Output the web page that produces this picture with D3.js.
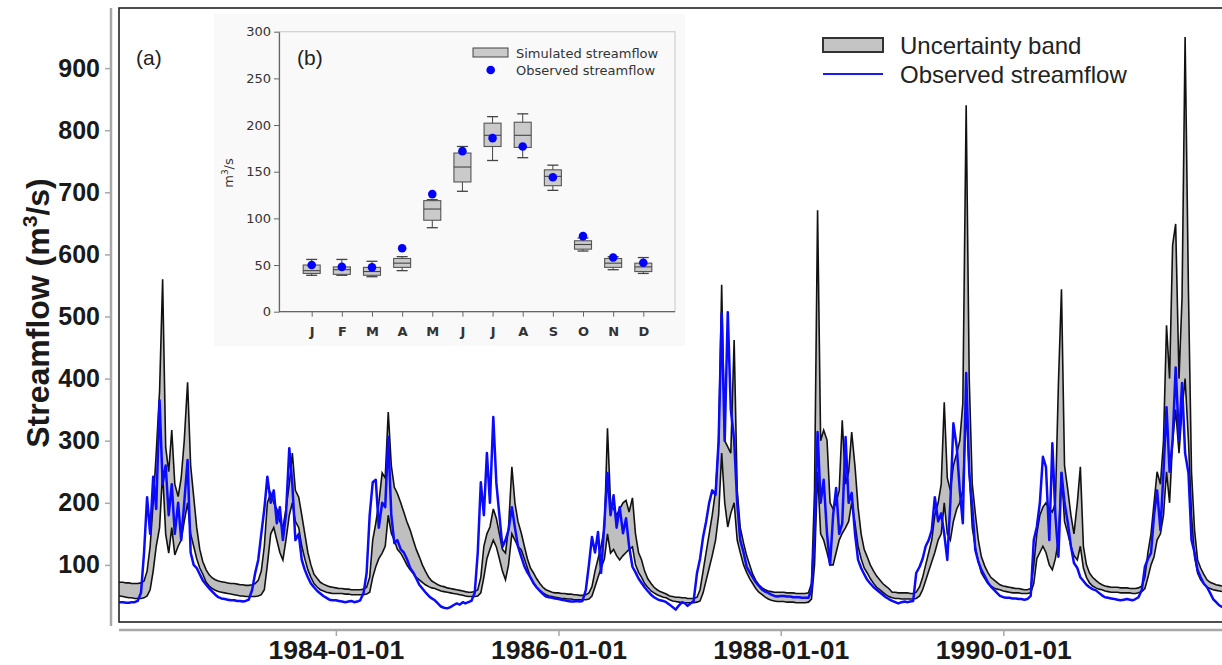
<!DOCTYPE html>
<html>
<head>
<meta charset="utf-8">
<title>Streamflow uncertainty band</title>
<script src="https://cdn.jsdelivr.net/npm/d3@7"></script>
<style>
  body { margin: 0; background: #fff; }
  svg { font-family: "Liberation Sans", Arial, sans-serif; }
</style>
</head>
<body>
<div id="chart"></div>
<script>

// ---- main panel (a): dekadal values, one row per year ----
var years = [1982, 1983, 1984, 1985, 1986, 1987, 1988, 1989, 1990, 1991];

var obsFlow = [
  [42,41,40,40,39,39,40,40,42,55,120,209,150,242,190,365,230,260,180,230,150,200,140,200,269,120,100,95,85,75,68,62,57,52,48,46],
  [45,44,43,43,42,42,41,42,44,60,87,108,150,190,242,200,220,167,193,140,180,288,230,140,150,108,92,80,70,64,58,54,50,47,44,43],
  [43,42,41,40,41,42,40,41,43,55,87,180,233,237,160,200,193,306,180,135,140,125,120,110,95,88,78,68,62,56,50,46,43,38,33,31],
  [30,32,35,38,36,40,38,40,42,55,120,233,180,280,200,338,232,180,129,140,156,193,160,130,113,98,88,80,71,64,58,53,49,48,47,46],
  [45,44,43,42,41,41,42,41,42,60,100,145,120,153,87,170,248,180,212,160,193,151,175,130,97,88,78,71,64,58,52,48,45,43,42,40],
  [36,32,28,35,40,38,34,38,42,87,110,145,170,200,220,213,300,505,300,507,350,301,200,140,120,97,88,80,72,66,60,57,55,52,50,49],
  [50,50,49,49,48,48,48,47,47,47,60,150,314,200,237,150,100,180,224,150,167,306,200,216,150,108,95,85,76,70,64,60,56,52,48,45],
  [42,40,38,40,41,40,41,42,87,97,110,130,140,156,209,170,183,150,108,200,328,290,220,167,409,250,193,124,105,92,82,72,65,60,55,50],
  [48,47,47,46,46,45,45,44,45,50,140,161,200,274,258,140,296,180,113,248,200,167,130,103,95,80,74,68,64,61,59,55,51,48,47,46],
  [45,44,43,44,45,44,43,45,48,60,97,110,119,180,220,156,250,354,250,300,418,301,393,280,248,140,120,92,80,70,64,55,45,40,35,32]
];

var bandHigh = [
  [74,73,72,72,71,71,70,70,70,71,74,90,130,200,280,380,560,290,250,317,230,210,240,300,394,260,210,160,125,105,92,84,79,76,74,73],
  [72,71,70,70,69,68,68,67,67,68,70,75,90,130,200,216,200,190,170,160,190,230,280,220,209,180,150,120,100,85,78,72,69,67,65,64],
  [63,62,62,61,61,60,60,60,60,61,64,80,140,167,200,248,240,346,260,225,215,200,185,170,156,140,125,113,100,90,80,74,71,68,66,65],
  [63,62,61,60,59,58,57,56,56,57,60,80,130,150,161,190,175,150,125,119,160,258,200,170,151,130,110,95,87,78,70,64,60,58,56,55],
  [55,54,54,53,53,52,52,51,51,52,55,65,90,110,130,160,320,200,190,180,190,200,204,185,208,150,120,108,90,78,70,64,60,57,55,53],
  [50,49,48,48,47,47,46,46,46,48,60,90,120,150,180,220,296,551,300,290,280,462,220,160,135,115,100,85,75,68,63,60,58,57,56,56],
  [56,56,55,55,55,54,54,54,54,55,70,220,671,300,317,301,200,190,200,220,333,230,250,314,258,193,150,125,113,100,90,82,76,70,66,62],
  [56,56,55,55,55,55,54,54,56,65,80,100,120,140,180,200,230,362,240,220,260,280,300,360,840,400,230,183,140,113,98,88,80,76,72,68],
  [66,65,64,63,62,62,61,60,60,62,100,150,180,193,200,190,185,200,393,544,260,220,180,150,200,258,130,100,87,80,75,71,68,66,65,64],
  [64,64,63,63,63,62,62,62,63,66,80,120,150,200,250,230,300,486,400,615,649,400,531,950,540,250,156,108,95,85,76,72,70,68,67,66]
];

var bandLow = [
  [52,51,50,49,48,47,47,46,46,46,47,50,60,90,130,160,250,150,119,160,116,130,140,170,200,150,130,110,95,85,72,66,62,59,57,56],
  [55,54,53,52,51,50,50,49,49,49,49,50,52,60,100,150,160,140,120,108,140,180,200,170,160,130,110,92,80,70,64,60,58,56,55,54],
  [54,54,54,53,53,52,52,52,52,52,53,56,80,97,110,119,130,180,151,140,125,119,110,100,92,86,80,76,72,68,65,63,62,60,58,57],
  [56,55,54,53,52,51,50,49,49,49,50,55,80,110,125,140,129,110,90,76,100,150,140,130,124,110,95,80,70,64,59,55,52,50,49,48],
  [47,46,46,45,45,44,44,44,44,44,45,50,65,80,95,110,150,119,125,115,108,115,120,125,129,100,88,80,70,64,58,55,52,50,48,47],
  [44,42,41,40,39,39,39,39,39,40,42,55,75,95,115,140,180,280,200,161,183,200,140,120,100,88,78,70,62,56,52,48,45,43,42,41],
  [41,41,40,40,40,39,39,39,39,40,45,100,250,150,140,120,100,100,120,140,151,160,170,200,167,130,110,95,87,78,70,64,60,56,52,49],
  [47,46,46,45,45,45,45,45,46,50,60,75,90,105,120,140,150,200,150,140,170,190,200,220,350,250,160,129,105,87,78,70,66,63,61,60],
  [58,57,56,55,55,55,54,54,54,55,70,110,120,130,120,100,92,110,140,250,170,150,130,115,108,130,95,80,71,66,63,61,60,58,57,56],
  [56,56,55,55,55,55,54,54,55,57,62,80,100,113,140,150,180,250,200,300,350,280,350,400,300,180,113,87,76,70,64,62,60,59,58,57]
];

var yTicks = [100, 200, 300, 400, 500, 600, 700, 800, 900];
var xTickDates = ["1984-01-01", "1986-01-01", "1988-01-01", "1990-01-01"];

// ---- inset (b): monthly box plot ----
var months = ["J", "F", "M", "A", "M", "J", "J", "A", "S", "O", "N", "D"];
var simMin = [39, 39, 37.5, 44, 90, 129, 162, 165, 130, 65, 45, 41];
var simQ1  = [41, 40, 39, 47.5, 98, 139, 177, 176, 135, 67, 47.5, 43];
var simMed = [44, 45, 43, 52, 110, 155, 189, 189, 145, 72, 52, 48];
var simQ3  = [50, 48, 47.5, 57, 119, 170, 202, 203, 152, 76, 57, 52];
var simMax = [56, 56, 54, 59, 120, 177, 209, 212, 157, 79, 59, 58];
var obsMonthly = [50, 48, 47.5, 68, 126, 172, 186, 177, 144, 81, 58, 52.5];
var insetTicks = [0, 50, 100, 150, 200, 250, 300];


var width = 1222, height = 665;

var svg = d3.select("#chart")
  .append("svg")
    .attr("width", width)
    .attr("height", height);

svg.append("rect").attr("width", width).attr("height", height).attr("fill", "#fff");

// build the series: 3 points per month (1st, 11th, 21st)
var series = [];
years.forEach(function(yr, r) {
  obsFlow[r].forEach(function(v, i) {
    series.push({
      date: new Date(yr, Math.floor(i / 3), 1 + (i % 3) * 10),
      obs: v,
      hi: bandHigh[r][i],
      lo: bandLow[r][i]
    });
  });
});

var x = d3.scaleTime()
  .domain([new Date(1982, 0, 1), new Date(1992, 0, 1)])
  .range([113.6, 1225.6]);

var y = d3.scaleLinear()
  .domain([0, 1000])
  .range([627, 6]);

var plotLeft = 119, plotTop = 8, plotBottom = 622;

svg.append("clipPath").attr("id", "plotclip")
  .append("rect")
    .attr("x", plotLeft).attr("y", plotTop)
    .attr("width", 1110).attr("height", plotBottom - plotTop);

var plot = svg.append("g").attr("clip-path", "url(#plotclip)");

// uncertainty band
plot.append("path")
  .datum(series)
  .attr("fill", "#bfbfbf")
  .attr("d", d3.area()
    .x(function(d) { return x(d.date); })
    .y0(function(d) { return y(d.lo); })
    .y1(function(d) { return y(d.hi); }));

["hi", "lo"].forEach(function(k) {
  plot.append("path")
    .datum(series)
    .attr("fill", "none")
    .attr("stroke", "#111")
    .attr("stroke-width", 1.6)
    .attr("d", d3.line()
      .x(function(d) { return x(d.date); })
      .y(function(d) { return y(d[k]); }));
});

// observed
plot.append("path")
  .datum(series)
  .attr("fill", "none")
  .attr("stroke", "#0a0aff")
  .attr("stroke-width", 2.5)
  .attr("stroke-linejoin", "round")
  .attr("d", d3.line()
    .x(function(d) { return x(d.date); })
    .y(function(d) { return y(d.obs); }));

// frame
svg.append("rect")
  .attr("x", plotLeft).attr("y", plotTop)
  .attr("width", 1110).attr("height", plotBottom - plotTop)
  .attr("fill", "none")
  .attr("stroke", "#222")
  .attr("stroke-width", 1.6);

// y axis (gray, offset to the left of the frame)
var yAxis = svg.append("g")
  .attr("transform", "translate(111,0)")
  .call(d3.axisLeft(y).tickValues(yTicks).tickSize(6).tickPadding(5).tickSizeOuter(0));
yAxis.select(".domain").attr("d", "M0," + plotTop + "V" + (plotBottom + 4))
  .attr("stroke", "#a8a8a8").attr("stroke-width", 2.5);
yAxis.selectAll(".tick line").attr("stroke", "#a8a8a8").attr("stroke-width", 1.5);
yAxis.selectAll(".tick text")
  .attr("font-size", 25).attr("font-weight", "bold")
  .attr("font-family", "'Liberation Sans', Arial, sans-serif")
  .attr("fill", "#1a1a1a");

// x axis (gray, below the frame)
var parseDay = d3.timeParse("%Y-%m-%d");
var xAxis = svg.append("g")
  .attr("transform", "translate(0,630)")
  .call(d3.axisBottom(x)
    .tickValues(xTickDates.map(parseDay))
    .tickFormat(d3.timeFormat("%Y-%m-%d"))
    .tickSize(6).tickPadding(5).tickSizeOuter(0));
xAxis.select(".domain").attr("d", "M" + plotLeft + ",0H" + width)
  .attr("stroke", "#a8a8a8").attr("stroke-width", 2.5);
xAxis.selectAll(".tick line").attr("stroke", "#a8a8a8").attr("stroke-width", 1.5);
xAxis.selectAll(".tick text")
  .attr("font-size", 25).attr("font-weight", "bold")
  .attr("font-family", "'Liberation Sans', Arial, sans-serif")
  .attr("fill", "#1a1a1a")
  .attr("textLength", 136).attr("lengthAdjust", "spacingAndGlyphs");

// y title
var yTitle = svg.append("text")
  .attr("transform", "translate(49,313) rotate(-90)")
  .attr("text-anchor", "middle")
  .attr("font-size", 32).attr("font-weight", "bold")
  .attr("fill", "#1a1a1a");
yTitle.append("tspan").text("Streamflow (m");
yTitle.append("tspan").attr("font-size", 21).attr("dy", -12).text("3");
yTitle.append("tspan").attr("dy", 12).text("/s)");

svg.append("text")
  .attr("x", 136).attr("y", 65)
  .attr("font-size", 21).attr("fill", "#222")
  .text("(a)");

// legend
var leg = svg.append("g");
leg.append("rect")
  .attr("x", 823).attr("y", 38).attr("width", 60).attr("height", 14)
  .attr("fill", "#c4c4c4").attr("stroke", "#333").attr("stroke-width", 2);
leg.append("text").attr("x", 900).attr("y", 54)
  .attr("font-size", 24).attr("fill", "#222").text("Uncertainty band");
leg.append("line")
  .attr("x1", 823).attr("x2", 883).attr("y1", 74).attr("y2", 74)
  .attr("stroke", "#1a1aff").attr("stroke-width", 2);
leg.append("text").attr("x", 900).attr("y", 83)
  .attr("font-size", 24).attr("fill", "#222").text("Observed streamflow");

// ---- inset ----
var inset = svg.append("g");
inset.append("rect")
  .attr("x", 214).attr("y", 14).attr("width", 471).attr("height", 332)
  .attr("fill", "#f9f9f9");

var ix = d3.scalePoint().domain(d3.range(12)).range([311.7, 643.3]);
var iy = d3.scaleLinear().domain([0, 300]).range([311.7, 31.7]);
var iLeft = 279, iRight = 675;

inset.append("rect")
  .attr("x", iLeft).attr("y", iy(300))
  .attr("width", iRight - iLeft).attr("height", iy(0) - iy(300))
  .attr("fill", "none").attr("stroke", "#cfcfcf").attr("stroke-width", 1.2);

var iyAxis = inset.append("g")
  .attr("transform", "translate(" + iLeft + ",0)")
  .call(d3.axisLeft(iy).tickValues(insetTicks).tickSize(5).tickPadding(3).tickSizeOuter(0));
iyAxis.select(".domain").attr("stroke", "#666").attr("stroke-width", 1.2);
iyAxis.selectAll(".tick line").attr("stroke", "#666");
iyAxis.selectAll(".tick text")
  .attr("font-size", 13).attr("font-family", "'DejaVu Sans', sans-serif").attr("fill", "#333");

var ixAxis = inset.append("g")
  .attr("transform", "translate(0," + iy(0) + ")")
  .call(d3.axisBottom(ix).tickFormat(function(i) { return months[i]; })
    .tickSize(5).tickPadding(10).tickSizeOuter(0));
ixAxis.select(".domain").attr("d", "M" + iLeft + ",0H" + iRight)
  .attr("stroke", "#666").attr("stroke-width", 1.2);
ixAxis.selectAll(".tick line").attr("stroke", "#666");
ixAxis.selectAll(".tick text")
  .attr("font-size", 13).attr("font-weight", "bold")
  .attr("font-family", "'DejaVu Sans', sans-serif").attr("fill", "#333");

inset.append("text")
  .attr("transform", "translate(233,173) rotate(-90)")
  .attr("text-anchor", "middle")
  .attr("font-size", 13).attr("font-family", "'DejaVu Sans', sans-serif").attr("fill", "#333")
  .call(function(t) {
    t.append("tspan").text("m");
    t.append("tspan").attr("font-size", 9).attr("dy", -5).text("3");
    t.append("tspan").attr("dy", 5).text("/s");
  });

var boxes = inset.selectAll("g.box")
  .data(d3.range(12))
  .enter().append("g").attr("class", "box");

boxes.append("line")
  .attr("x1", function(i) { return ix(i); }).attr("x2", function(i) { return ix(i); })
  .attr("y1", function(i) { return iy(simMin[i]); }).attr("y2", function(i) { return iy(simMax[i]); })
  .attr("stroke", "#444");
[simMin, simMax].forEach(function(arr) {
  boxes.append("line")
    .attr("x1", function(i) { return ix(i) - 5.5; }).attr("x2", function(i) { return ix(i) + 5.5; })
    .attr("y1", function(i) { return iy(arr[i]); }).attr("y2", function(i) { return iy(arr[i]); })
    .attr("stroke", "#444").attr("stroke-width", 1.3);
});
boxes.append("rect")
  .attr("x", function(i) { return ix(i) - 8.5; })
  .attr("width", 17)
  .attr("y", function(i) { return iy(simQ3[i]); })
  .attr("height", function(i) { return iy(simQ1[i]) - iy(simQ3[i]); })
  .attr("fill", "#cacaca").attr("stroke", "#555").attr("stroke-width", 1.1);
boxes.append("line")
  .attr("x1", function(i) { return ix(i) - 8.5; }).attr("x2", function(i) { return ix(i) + 8.5; })
  .attr("y1", function(i) { return iy(simMed[i]); }).attr("y2", function(i) { return iy(simMed[i]); })
  .attr("stroke", "#444").attr("stroke-width", 1.1);
boxes.append("circle")
  .attr("cx", function(i) { return ix(i); })
  .attr("cy", function(i) { return iy(obsMonthly[i]); })
  .attr("r", 4.3)
  .attr("fill", "#0000ff");

inset.append("text")
  .attr("x", 297).attr("y", 65)
  .attr("font-size", 21).attr("fill", "#222").text("(b)");

inset.append("rect")
  .attr("x", 473).attr("y", 48).attr("width", 35).attr("height", 9)
  .attr("fill", "#cacaca").attr("stroke", "#444");
inset.append("text").attr("x", 516).attr("y", 53).attr("dy", "0.35em")
  .attr("font-size", 13).attr("font-family", "'DejaVu Sans', sans-serif").attr("fill", "#333")
  .text("Simulated streamflow");
inset.append("circle").attr("cx", 490.7).attr("cy", 70).attr("r", 4.3).attr("fill", "#0000ff");
inset.append("text").attr("x", 516).attr("y", 70).attr("dy", "0.35em")
  .attr("font-size", 13).attr("font-family", "'DejaVu Sans', sans-serif").attr("fill", "#333")
  .text("Observed streamflow");

</script>
</body>
</html>
